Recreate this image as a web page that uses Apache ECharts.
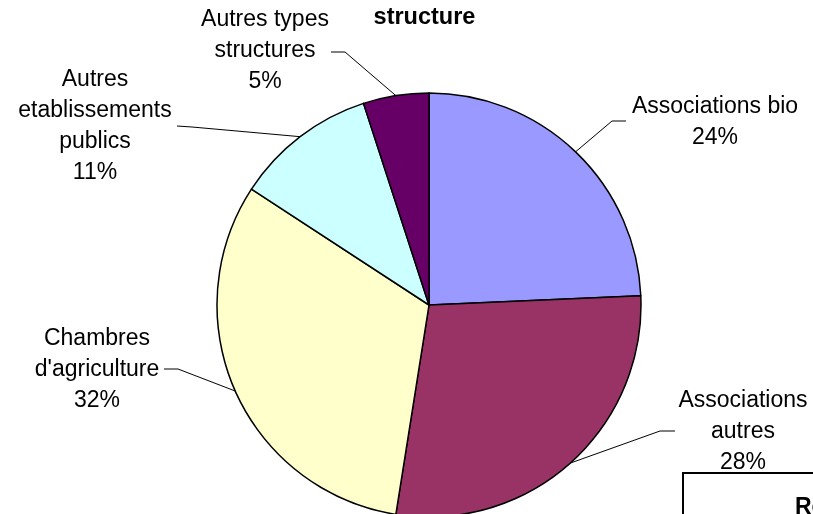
<!DOCTYPE html>
<html>
<head>
<meta charset="utf-8">
<script src="https://cdn.jsdelivr.net/npm/echarts@6/dist/echarts.min.js"></script>
<style>html,body{margin:0;padding:0;background:#fff;}#c{width:813px;height:514px;}</style>
</head>
<body>
<div id="c"></div>
<script>
const categories = ["Associations bio", "Associations\nautres", "Chambres\nd'agriculture", "Autres\netablissements\npublics", "Autres types\nstructures"];
const values = [24.3, 28.2, 31.7, 10.8, 5.0];
const colors = ["#9999FF", "#993366", "#FFFFCC", "#CCFFFF", "#660066"];
const titleText = "structure";
const boxText = "Répartition";

// label placement (styling only)
const labelCenters = [[715, 122], [743, 432], [97, 370], [95, 126], [265, 51]];
const labelElbows = [[[612, 121], [626, 121]], [[660, 431], [675, 431]], [[178, 369], [164, 369]], [[192, 127], [177, 126]], [[345, 52], [331, 52]]];

const chart = echarts.init(document.getElementById('c'), null, {renderer: 'canvas'});
const font = "'Liberation Sans', Arial, sans-serif";
chart.setOption({
  animation: false,
  backgroundColor: '#fff',
  title: {
    text: titleText, left: 419.5, top: 1, textAlign: 'center',
    textStyle: {fontFamily: font, fontWeight: 'bold', fontSize: 23.5, color: '#000'}
  },
  graphic: [
    {type: 'rect', shape: {x: 683, y: 473, width: 200, height: 100}, style: {fill: '#fff', stroke: '#000', lineWidth: 2}, z: 10},
    {type: 'text', x: 795, y: 496, style: {text: boxText, font: 'bold 23px ' + font, fill: '#000'}, z: 11}
  ],
  series: [{
    type: 'pie',
    center: [429, 305],
    radius: [0, 212],
    startAngle: 90,
    clockwise: true,
    silent: true,
    itemStyle: {borderColor: '#000', borderWidth: 1.5},
    label: {
      show: true, position: 'outside', color: '#000', fontFamily: font, fontSize: 23, lineHeight: 31,
      align: 'center',
      formatter: p => p.name + '\n' + Math.round(p.percent) + '%'
    },
    labelLine: {show: true, length: 20, length2: 10, lineStyle: {color: '#000', width: 1}},
    labelLayout: function (params) {
      const i = params.dataIndex;
      const anchor = params.labelLinePoints ? params.labelLinePoints[0] : null;
      const res = {x: labelCenters[i][0], y: labelCenters[i][1], align: 'center', verticalAlign: 'middle'};
      if (anchor) res.labelLinePoints = [anchor, labelElbows[i][0], labelElbows[i][1]];
      return res;
    },
    data: categories.map((c, i) => ({name: c, value: values[i], itemStyle: {color: colors[i]}}))
  }]
});
</script>
</body>
</html>
